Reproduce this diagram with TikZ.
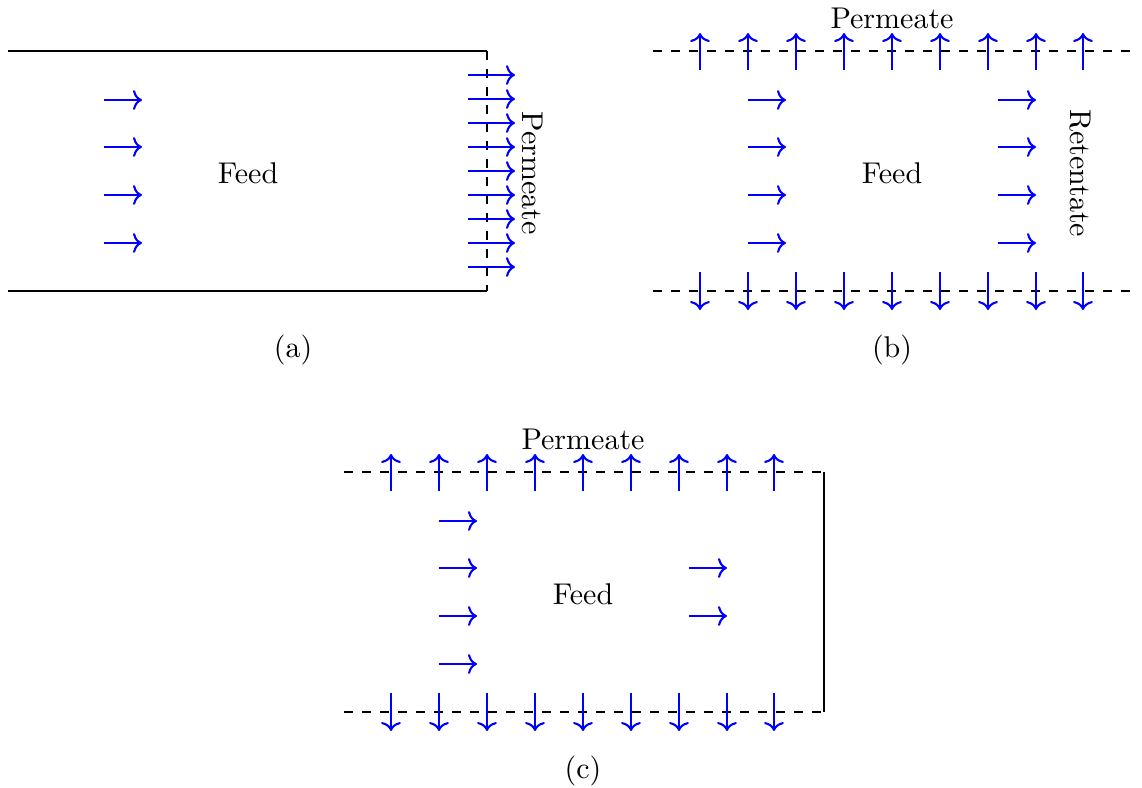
\documentclass[tikz,border=0pt]{standalone}
\usetikzlibrary{arrows.meta}
\begin{document}
\begin{tikzpicture}[x=0.3333pt,y=-0.3333pt,
  wall/.style={line width=0.6pt},
  mem/.style={line width=0.6pt,dashed},
  flow/.style={blue,line width=0.7pt,-{Computer Modern Rightarrow[length=3pt,width=6.6pt]}},
  lbl/.style={inner sep=0pt,font=\normalsize}]
\useasboundingbox (0,0) rectangle (1142,787);
% ---------- (a)
\draw[wall] (8,51) -- (487,51);
\draw[wall] (8,291) -- (487,291);
\draw[mem] (487,51) -- (487,291);
\foreach \y in {75,99,123,147,171,195,219,243,267}
  \draw[flow] (468,\y) -- (515,\y);
\foreach \y in {100,147,195,243}
  \draw[flow] (104,\y) -- (142,\y);
\node[lbl] (feedA) at (248,173) {Feed};
\node[lbl,rotate=-90] (permA) at (533,173) {Permeate};
\node[lbl] (capA) at (293,350) {(a)};
% ---------- (b) and (c)
\foreach \dx/\dy/\cap/\nm in {0/0/(b)/B, -309/421/(c)/C}{
  \begin{scope}[shift={(\dx,\dy)}]
    \draw[mem] (653,51) -- (1130,51);
    \draw[mem] (653,291) -- (1130,291);
    \foreach \x in {700,748,796,844,892,940,988,1036,1083}{
      \draw[flow] (\x,70) -- (\x,33);
      \draw[flow] (\x,272) -- (\x,310);
    }
    \foreach \y in {100,147,195,243}
      \draw[flow] (748,\y) -- (786,\y);
    \node[lbl] (feed\nm) at (892,173) {Feed};
    \node[lbl] (perm\nm) at (892,18) {Permeate};
    \node[lbl] (cap\nm) at (892,350) {\cap};
  \end{scope}
}
% right column (b)
\foreach \y in {100,147,195,243}
  \draw[flow] (998,\y) -- (1036,\y);
\node[lbl,rotate=-90] (retB) at (1080,173) {Retentate};
% (c) extras: retentate closed by wall
\foreach \y in {568,616}
  \draw[flow] (689,\y) -- (727,\y);
\draw[wall] (824,472) -- (824,712);
\end{tikzpicture}
\end{document}
